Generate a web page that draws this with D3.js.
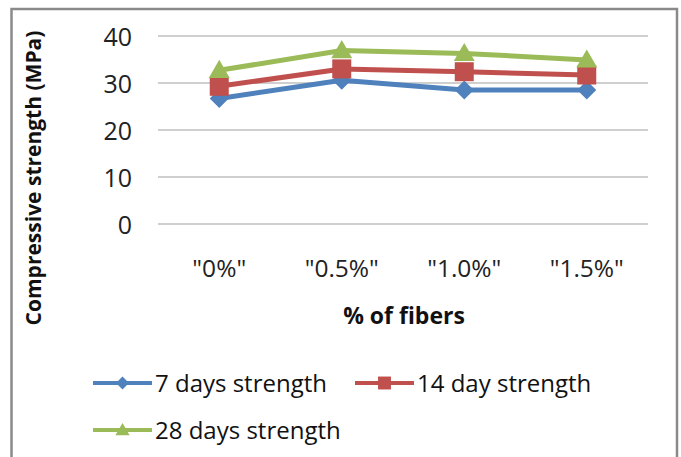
<!DOCTYPE html>
<html><head><meta charset="utf-8">
<script src="https://cdn.jsdelivr.net/npm/d3@7"></script>
<style>body{margin:0;background:#fff;}svg{display:block;font-family:"Open Sans","Noto Sans",sans-serif;}</style>
</head><body>
<script>
const categories = ['"0%"', '"0.5%"', '"1.0%"', '"1.5%"'];
const days7 = [26.7, 30.6, 28.5, 28.5];
const days14 = [29.3, 33.0, 32.4, 31.7];
const days28 = [32.7, 36.9, 36.3, 34.9];
const yTicks = [0, 10, 20, 30, 40];
const seriesNames = ["7 days strength", "14 day strength", "28 days strength"];

const W = 681, H = 457;
const svg = d3.select("body").append("svg").attr("width", W).attr("height", H);

svg.append("rect").attr("x", 11.5).attr("y", 9).attr("width", 665.5).attr("height", 460)
  .attr("fill", "none").attr("stroke", "#8a8a8a").attr("stroke-width", 2.5);

const x = d3.scaleBand().domain(categories).range([158, 648]);
const y = d3.scaleLinear().domain([0, 40]).range([224, 36]);

// gridlines
svg.append("g").selectAll("line").data(yTicks).join("line")
  .attr("x1", 158).attr("x2", 648)
  .attr("y1", d => y(d)).attr("y2", d => y(d))
  .attr("stroke", "#a0a0a0").attr("stroke-width", 1.2);

// y axis labels
const yAxis = d3.axisLeft(y).tickValues(yTicks).tickSize(0).tickPadding(0);
const yg = svg.append("g").attr("transform", "translate(132,0)").call(yAxis);
yg.select(".domain").remove();
yg.selectAll("text").attr("font-size", 25).attr("fill", "#222").attr("font-family", "'Open Sans',sans-serif").attr("dy", "0.36em");

// x axis labels
const xAxis = d3.axisBottom(x).tickSize(0).tickPadding(0);
const xg = svg.append("g").attr("transform", "translate(0,268)").call(xAxis);
xg.select(".domain").remove();
xg.selectAll("text").attr("font-size", 24.5).attr("fill", "#222").attr("font-family", "'Open Sans',sans-serif").attr("dy", "0.36em");

// titles
svg.append("text").attr("transform", "translate(33,178) rotate(-90)")
  .attr("text-anchor", "middle").attr("dy", "0.36em").attr("font-size", 21).attr("font-weight", "bold").attr("fill", "#111")
  .text("Compressive strength (MPa)");
svg.append("text").attr("x", 404).attr("y", 316).attr("dy", "0.36em")
  .attr("text-anchor", "middle").attr("font-size", 23).attr("font-weight", "bold").attr("fill", "#111")
  .text("% of fibers");

const colors = ["#4F81BD", "#C0504D", "#9BBB59"];
const series = [days7, days14, days28];
const cx = c => x(c) + x.bandwidth() / 2;

function marker(g, type, px, py, big) {
  const s = big ? 1 : 0.68;
  if (type === 0) {
    const r = 9.5 * s;
    g.append("path").attr("d", `M${px},${py - r}L${px + r},${py}L${px},${py + r}L${px - r},${py}Z`).attr("fill", colors[0]);
  } else if (type === 1) {
    const r = 9.5 * s;
    g.append("rect").attr("x", px - r).attr("y", py - r).attr("width", 2 * r).attr("height", 2 * r).attr("fill", colors[1]);
  } else {
    const w = 10.5 * s, h = 9.5 * s;
    g.append("path").attr("d", `M${px},${py - h * 1.1}L${px + w},${py + h * 0.8}L${px - w},${py + h * 0.8}Z`).attr("fill", colors[2]);
  }
}

const line = d3.line().x((d, i) => cx(categories[i])).y(d => y(d));
series.forEach((vals, k) => {
  const g = svg.append("g");
  g.append("path").datum(vals).attr("d", line).attr("fill", "none")
    .attr("stroke", colors[k]).attr("stroke-width", 5).attr("stroke-linejoin", "round");
  vals.forEach((v, i) => marker(g, k, cx(categories[i]), y(v), true));
});

// legend
const legendPos = [[93, 383], [355, 383], [93, 430]];
seriesNames.forEach((name, k) => {
  const [lx, ly] = legendPos[k];
  const g = svg.append("g");
  g.append("line").attr("x1", lx).attr("x2", lx + 59).attr("y1", ly).attr("y2", ly)
    .attr("stroke", colors[k]).attr("stroke-width", 4);
  marker(g, k, lx + 29.5, ly, false);
  g.append("text").attr("x", lx + 62).attr("y", ly).attr("dy", "0.36em")
    .attr("font-size", 24).attr("fill", "#111").text(name);
});
</script>
</body></html>
